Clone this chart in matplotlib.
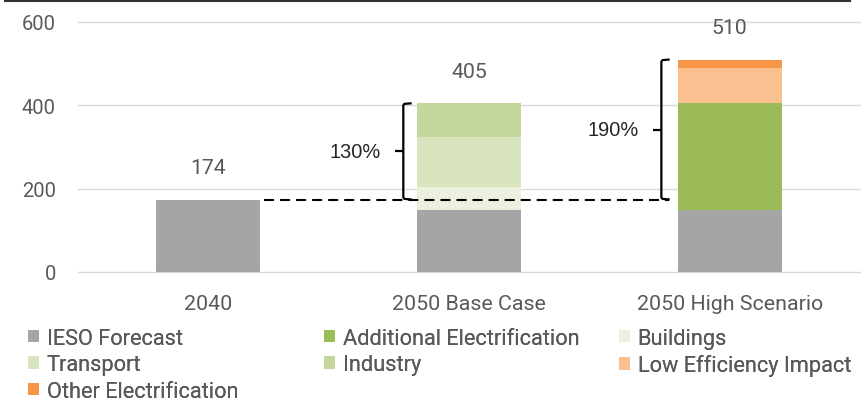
import matplotlib
matplotlib.use('Agg')
import matplotlib.pyplot as plt
from matplotlib.lines import Line2D
import numpy as np

# ---------------- data ----------------
categories = ['2040', '2050 Base Case', '2050 High Scenario']
series_names = ['IESO Forecast', 'Additional Electrification', 'Buildings',
                'Transport', 'Industry', 'Low Efficiency Impact',
                'Other Electrification']
ieso_forecast = [174, 150, 150]
additional_electrification = [0, 0, 255]
buildings = [0, 55, 0]
transport = [0, 120, 0]
industry = [0, 80, 0]
low_efficiency_impact = [0, 0, 85]
other_electrification = [0, 0, 20]
totals = [174, 405, 510]
baseline = 174
pct_labels = ['130%', '190%']
yticks = [0, 200, 400, 600]

series_values = [ieso_forecast, additional_electrification, buildings,
                 transport, industry, low_efficiency_impact,
                 other_electrification]
series_colors = ['#A5A5A5', '#9BBB59', '#EBF1DE', '#D7E4BD', '#C3D69B',
                 '#FAC090', '#F79646']

TXT = '#595959'
FONT = 'Roboto'

fig = plt.figure(figsize=(8.65, 4.02), dpi=100)
ax = fig.add_axes([78/865, 1-273/402, (860-78)/865, (273-23)/402])

x = np.arange(len(categories))
bottom = np.zeros(len(categories))
handles = {}
for name, vals, col in zip(series_names, series_values, series_colors):
    vals = np.array(vals, dtype=float)
    bc = ax.bar(x, vals, width=0.4, bottom=bottom, color=col, label=name,
                zorder=2, linewidth=0)
    handles[name] = bc
    bottom += vals

ax.set_xlim(-0.5, 2.5)
ax.set_ylim(0, 600)
ax.set_yticks(yticks)
ax.set_xticks(x)
ax.set_xticklabels(categories, fontsize=15.4, color=TXT, fontfamily=FONT)
for lab in ax.get_yticklabels():
    lab.set_fontsize(14.5)
    lab.set_color(TXT)
    lab.set_fontfamily(FONT)
ax.tick_params(axis='both', length=0)
ax.tick_params(axis='y', pad=16)
ax.tick_params(axis='x', pad=16)
for s in ax.spines.values():
    s.set_visible(False)
ax.yaxis.grid(True, color='#D9D9D9', linewidth=1.0, zorder=0)
for gl in ax.get_ygridlines():
    gl.set_clip_on(False)
ax.set_axisbelow(True)

# total labels
for xi, t in zip(x, totals):
    ax.annotate(str(t), (xi, t), xytext=(0, 32), textcoords='offset pixels',
                ha='center', va='center', fontsize=15.3, color=TXT,
                fontfamily=FONT)

# dashed baseline
bracket_x = [0.748, 1.738]
ax.plot([0.214, bracket_x[1] + 0.03], [baseline, baseline], color='#000000',
        lw=1.5, dashes=(4.8, 2.9), zorder=5, solid_capstyle='butt',
        dash_capstyle='butt')

# brackets
h = 0.032   # hook length (data x units)
r = 5       # hook rounding (data y units)
t = 0.032   # middle tick length
for bx, top, lab in zip(bracket_x, totals[1:], pct_labels):
    ax.plot([bx + h, bx + 0.004, bx, bx, bx + 0.004, bx + h],
            [top, top - r * 0.3, top - r, baseline + r, baseline + r * 0.3, baseline],
            color='#000000', lw=1.6, zorder=6, solid_joinstyle='round',
            solid_capstyle='butt')
    mid = (top + baseline) / 2
    ax.plot([bx - t, bx], [mid, mid], color='#000000', lw=1.6, zorder=6,
            solid_capstyle='butt')
    ax.text(bx - 0.086, mid, lab, ha='right', va='center', fontsize=14.4,
            color='#262626', fontfamily='Liberation Sans')

# legends (row-wise order in three columns)
cols = [['IESO Forecast', 'Transport', 'Other Electrification'],
        ['Additional Electrification', 'Industry'],
        ['Buildings', 'Low Efficiency Impact']]
col_x = [28, 324, 619]
for names, cx in zip(cols, col_x):
    leg = fig.legend([handles[n] for n in names], names, loc='upper left',
                     bbox_to_anchor=(cx/865, 1-329/402), frameon=False,
                     borderpad=0, borderaxespad=0, handlelength=0.5,
                     handleheight=0.5, handletextpad=0.35, labelspacing=0.25,
                     prop={'family': FONT, 'size': 15.7})
    for txt in leg.get_texts():
        txt.set_color(TXT)
    fig.add_artist(leg)

# top border line
fig.add_artist(Line2D([5/865, 850/865], [1-1.5/402, 1-1.5/402],
                      color='#333333', lw=1.5))

fig.savefig('out.png', dpi=100)
